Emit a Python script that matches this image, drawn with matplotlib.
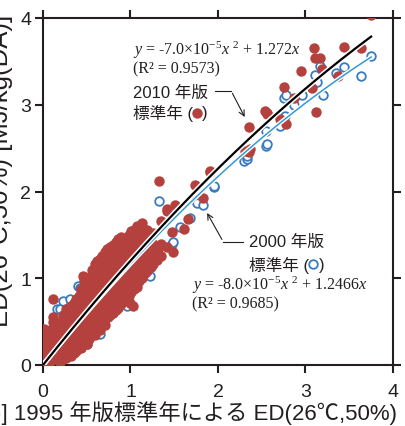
import numpy as np
import matplotlib
matplotlib.use("Agg")
import matplotlib.pyplot as plt
import matplotlib.patheffects as pe

plt.rcParams['font.family'] = ['Liberation Sans', 'Noto Sans CJK JP', 'DejaVu Sans']
plt.rcParams['mathtext.fontset'] = 'custom'
plt.rcParams['mathtext.rm'] = 'Liberation Serif'
plt.rcParams['mathtext.it'] = 'Liberation Serif:italic'

# 2010 standard year (red, filled)
x2010 = [0.01, 0.03, 0.03, 0.03, 0.03, 0.08, 0.08, 0.08, 0.08, 0.08,
         0.14, 0.14, 0.14, 0.14, 0.14, 0.12, 0.20, 0.20, 0.20, 0.20, 0.20,
         0.26, 0.26, 0.26, 0.26, 0.26, 0.26, 0.26,
         0.32, 0.32, 0.32, 0.32, 0.32, 0.32, 0.32,
         0.38, 0.38, 0.38, 0.38, 0.38, 0.38, 0.38,
         0.44, 0.44, 0.44, 0.44, 0.44, 0.44, 0.44, 0.44,
         0.50, 0.50, 0.50, 0.50, 0.50, 0.50, 0.50, 0.50,
         0.56, 0.56, 0.56, 0.56, 0.56, 0.56, 0.56, 0.56,
         0.62, 0.62, 0.62, 0.62, 0.62, 0.62, 0.62, 0.62,
         0.68, 0.68, 0.68, 0.68, 0.68, 0.68, 0.68, 0.68,
         0.74, 0.74, 0.74, 0.74, 0.74, 0.74, 0.74, 0.74,
         0.80, 0.80, 0.80, 0.80, 0.80, 0.80, 0.80, 0.80,
         0.86, 0.86, 0.86, 0.86, 0.86, 0.86, 0.86, 0.86,
         0.92, 0.92, 0.92, 0.92, 0.92, 0.92, 0.92,
         0.98, 0.98, 0.98, 0.98, 0.98, 0.98, 0.98,
         1.03, 1.04, 1.04, 1.04, 1.04, 1.04, 1.04, 1.04,
         1.10, 1.10, 1.10, 1.10, 1.10, 1.13, 1.13,
         1.17, 1.17, 1.17, 1.17, 1.19,
         1.23, 1.23, 1.23, 1.23,
         0.05, 0.05, 0.05, 0.05,
         0.11, 0.11, 0.11, 0.11, 0.11,
         0.17, 0.17, 0.17, 0.17,
         0.23, 0.23, 0.23, 0.23, 0.23, 0.23,
         0.29, 0.29, 0.29, 0.29, 0.29, 0.29,
         0.35, 0.35, 0.35, 0.35, 0.35, 0.35, 0.35,
         0.41, 0.41, 0.41, 0.41, 0.41, 0.41, 0.41,
         0.47, 0.47, 0.47, 0.47, 0.47, 0.47, 0.47, 0.47,
         0.53, 0.53, 0.53, 0.53, 0.53, 0.53, 0.53, 0.53,
         0.59, 0.59, 0.59, 0.59, 0.59, 0.59, 0.59, 0.59, 0.59,
         0.65, 0.65, 0.65, 0.65, 0.65, 0.65, 0.65, 0.65, 0.65,
         0.71, 0.71, 0.71, 0.71, 0.71, 0.71, 0.71, 0.71, 0.71,
         0.77, 0.77, 0.77, 0.77, 0.77, 0.77, 0.77, 0.77,
         0.83, 0.83, 0.83, 0.83, 0.83, 0.83, 0.83, 0.83,
         0.89, 0.89, 0.89, 0.89, 0.89, 0.89, 0.89, 0.89,
         0.95, 0.95, 0.95, 0.95, 0.95, 0.95, 0.95,
         1.01, 1.01, 1.01, 1.01, 1.01, 1.01, 1.01,
         1.07, 1.07, 1.07, 1.07, 1.07, 1.07, 1.07,
         1.13, 1.13, 1.13, 1.13, 1.13, 1.13,
         1.19, 1.19, 1.19, 1.19, 1.19,
         1.26, 1.26, 1.26, 1.26,
         1.35, 1.35, 1.35, 1.42, 1.42,
         0.12, 0.46, 0.73, 1.00,
         1.30, 1.31, 1.33, 1.42, 1.47, 1.49, 1.51, 1.61, 1.66, 1.74,
         1.83, 1.91, 1.91, 2.31, 2.36, 2.37, 2.36, 2.54, 2.56, 2.56,
         2.71, 2.76, 2.78, 2.87, 2.95, 3.08, 3.10, 3.11, 3.12, 3.17,
         3.19, 3.37, 3.44, 3.63, 3.75]
y2010 = [0.41, 0.02, 0.10, 0.18, 0.28, 0.04, 0.13, 0.22, 0.30, 0.40,
         0.07, 0.17, 0.26, 0.35, 0.45, 0.76, 0.03, 0.12, 0.22, 0.32, 0.50,
         0.08, 0.17, 0.27, 0.36, 0.45, 0.55, 0.64,
         0.10, 0.21, 0.31, 0.40, 0.50, 0.59, 0.68,
         0.16, 0.26, 0.36, 0.46, 0.55, 0.65, 0.76,
         0.20, 0.30, 0.40, 0.50, 0.60, 0.70, 0.80, 0.88,
         0.24, 0.34, 0.45, 0.56, 0.66, 0.76, 0.86, 0.95,
         0.38, 0.48, 0.58, 0.69, 0.80, 0.91, 1.02, 1.10,
         0.42, 0.53, 0.64, 0.75, 0.86, 0.97, 1.08, 1.20,
         0.48, 0.58, 0.70, 0.81, 0.92, 1.03, 1.14, 1.26,
         0.55, 0.66, 0.77, 0.88, 0.99, 1.10, 1.21, 1.33,
         0.60, 0.72, 0.83, 0.94, 1.05, 1.16, 1.28, 1.38,
         0.66, 0.78, 0.90, 1.01, 1.12, 1.24, 1.35, 1.45,
         0.74, 0.86, 0.97, 1.09, 1.20, 1.31, 1.42,
         0.80, 0.92, 1.03, 1.15, 1.27, 1.38, 1.50,
         0.68, 0.88, 0.99, 1.11, 1.22, 1.34, 1.46, 1.56,
         0.97, 1.08, 1.20, 1.31, 1.43, 1.55, 1.64,
         1.06, 1.17, 1.29, 1.41, 1.52,
         1.13, 1.25, 1.37, 1.49,
         0.06, 0.15, 0.24, 0.34,
         0.08, 0.18, 0.27, 0.36, 0.50,
         0.10, 0.21, 0.31, 0.41,
         0.07, 0.16, 0.26, 0.36, 0.46, 0.58,
         0.12, 0.22, 0.31, 0.41, 0.50, 0.60,
         0.14, 0.25, 0.35, 0.45, 0.54, 0.64, 0.72,
         0.20, 0.31, 0.41, 0.50, 0.60, 0.70, 0.80,
         0.24, 0.36, 0.45, 0.55, 0.65, 0.75, 0.85, 0.98,
         0.30, 0.40, 0.50, 0.61, 0.71, 0.81, 0.91, 1.02,
         0.35, 0.43, 0.53, 0.64, 0.75, 0.86, 0.97, 1.08, 1.16,
         0.40, 0.48, 0.59, 0.70, 0.81, 0.92, 1.03, 1.14, 1.22,
         0.46, 0.53, 0.64, 0.75, 0.86, 0.97, 1.08, 1.20, 1.30,
         0.58, 0.72, 0.82, 0.94, 1.05, 1.16, 1.27, 1.36,
         0.63, 0.75, 0.86, 0.97, 1.08, 1.20, 1.31, 1.42,
         0.70, 0.81, 0.93, 1.04, 1.16, 1.28, 1.40, 1.48,
         0.76, 0.88, 1.00, 1.12, 1.24, 1.35, 1.46,
         0.84, 0.96, 1.08, 1.20, 1.32, 1.44, 1.54,
         0.90, 1.02, 1.14, 1.26, 1.38, 1.50, 1.60,
         1.00, 1.12, 1.24, 1.36, 1.48, 1.58,
         1.08, 1.20, 1.32, 1.44, 1.56,
         1.16, 1.28, 1.40, 1.52,
         1.26, 1.40, 1.66, 1.36, 1.80,
         0.55, 1.03, 1.34, 0.72,
         1.21, 1.34, 2.12, 1.78, 1.53, 1.30, 1.85, 1.57, 1.68, 2.07,
         1.93, 2.22, 2.24, 2.47, 2.45, 2.49, 2.74, 2.93, 2.89, 2.91,
         2.84, 3.21, 2.78, 3.08, 3.39, 3.19, 3.65, 3.54, 2.92, 3.54,
         3.41, 3.33, 3.67, 3.65, 4.04]

# 2000 standard year (blue, open)
x2000 = [0.01, 0.02, 0.03, 0.04, 0.05, 0.06, 0.08, 0.10, 0.04, 0.12,
         0.16, 0.20, 0.23, 0.40, 0.42, 0.39, 0.50, 0.63, 0.65, 0.30,
         0.35, 0.45, 0.55, 0.60, 0.70, 0.75, 0.80, 0.85, 0.90, 0.96,
         1.00, 1.05, 1.09, 1.11, 1.13, 1.15, 1.19, 1.26, 1.28, 1.33,
         1.47, 1.49, 1.57, 1.68, 1.76, 1.83, 1.95, 1.96, 2.30, 2.33,
         2.33, 2.55, 2.55, 2.56, 2.71, 2.76, 2.77, 2.78, 2.87, 2.96,
         3.11, 3.13, 3.17, 3.20, 3.35, 3.44, 3.63, 3.75,
         1.15, 1.22, 0.31, 0.96]
y2000 = [0.01, 0.03, 0.05, 0.02, 0.07, 0.04, 0.08, 0.10, 0.13, 0.14,
         0.65, 0.65, 0.74, 0.91, 0.89, 0.26, 0.24, 0.44, 0.36, 0.33,
         0.40, 0.52, 0.60, 0.66, 0.75, 0.82, 0.86, 0.92, 0.98, 0.86,
         1.08, 1.12, 1.07, 0.99, 1.28, 1.11, 1.14, 1.34, 1.36, 1.89,
         1.39, 1.42, 1.59, 1.70, 1.87, 1.85, 2.05, 2.06, 2.35, 2.37,
         2.41, 2.53, 2.70, 2.55, 2.75, 3.08, 2.87, 3.11, 3.00, 3.11,
         3.34, 3.26, 3.45, 3.11, 3.37, 3.44, 3.33, 3.56,
         1.18, 1.03, 0.76, 0.68]

# regression lines y = a x^2 + b x (x, y in MJ)
a2010, b2010 = -0.070, 1.272
a2000, b2000 = -0.080, 1.2466
x_fit_max = 3.75

red = '#B5413E'
blue = '#3A7BC0'
lblue = '#3399D6'
ink = '#231F20'

fig = plt.figure(figsize=(4.06, 4.27), dpi=100)
ax = fig.add_axes([43/406, 1-366/427, 350/406, 347/427])

ax.plot(x2000, y2000, 'o', mfc='white', mec=blue, mew=1.3, ms=6.2, zorder=2)
ax.plot(x2010, y2010, 'o', color=red, ms=7.5, mew=0, zorder=3)

xf = np.linspace(0, x_fit_max, 200)
ax.plot(xf, a2000*xf**2 + b2000*xf, color=lblue, lw=1.1, zorder=4,
        path_effects=[pe.Stroke(linewidth=3.2, foreground='white'), pe.Normal()])
ax.plot(xf, a2010*xf**2 + b2010*xf, color='black', lw=1.6, zorder=5,
        path_effects=[pe.Stroke(linewidth=3.8, foreground='white'), pe.Normal()])

ax.set_xlim(0, 4)
ax.set_ylim(0, 4)
ax.set_xticks([0, 1, 2, 3, 4])
ax.set_yticks([0, 1, 2, 3, 4])
for s in ax.spines.values():
    s.set_linewidth(1.5)
    s.set_color(ink)
ax.tick_params(direction='out', length=6, width=1.5, color=ink, labelsize=14,
               top=True, right=True, labelcolor=ink)
ax.tick_params(axis='x', pad=7)
ax.tick_params(axis='y', pad=2.5)

# equations
eqfont = dict(fontfamily='Liberation Serif', fontsize=11.5, color=ink)
ax.text(1.03, 3.64, r'$y$ = -7.0×10$^{-5}$$x$ $^{2}$ + 1.272$x$', **eqfont, va='center')
ax.text(1.03, 3.42, '(R² = 0.9573)', **eqfont, va='center')
ax.text(1.70, 0.93, r'$y$ = -8.0×10$^{-5}$$x$ $^{2}$ + 1.2466$x$', **eqfont, va='center')
ax.text(1.70, 0.71, '(R² = 0.9685)', **eqfont, va='center')

# labels for series
jfont = dict(fontsize=12, color=ink, va='center')
ax.text(1.03, 3.14, '2010 年版', **jfont)
ax.text(1.03, 2.91, '標準年 (', **jfont)
ax.text(1.82, 2.91, ')', **jfont)
ax.plot([1.76], [2.91], 'o', color=red, ms=7.5, mew=0, clip_on=False)
ax.plot([1.97, 2.15], [3.16, 3.16], color=ink, lw=0.8)
ax.annotate('', xy=(2.32, 2.83), xytext=(2.15, 3.16),
            arrowprops=dict(arrowstyle='->', color=ink, lw=0.8))

ax.text(2.36, 1.42, '2000 年版', **jfont)
ax.text(2.36, 1.16, '標準年 (', **jfont)
ax.text(3.15, 1.16, ')', **jfont)
ax.plot([3.09], [1.16], 'o', mfc='white', mec=blue, mew=1.3, ms=6.2, clip_on=False)
ax.plot([2.06, 2.29], [1.42, 1.42], color=ink, lw=0.8)
ax.annotate('', xy=(1.86, 1.78), xytext=(2.06, 1.42),
            arrowprops=dict(arrowstyle='->', color=ink, lw=0.8))

# axis titles (cut at the left edge as in the source)
fig.text(397/406, 7/427, '[MJ/kg(DA)] 1995 年版標準年による ED(26℃,50%)',
         ha='right', va='baseline', fontsize=16, color=ink)
fig.text(13/406, 1-15/427, 'ED(26°C,50%) [MJ/kg(DA)]',
         rotation=90, ha='right', va='top', fontsize=18.5, color=ink)

fig.savefig('out.png', dpi=100)
